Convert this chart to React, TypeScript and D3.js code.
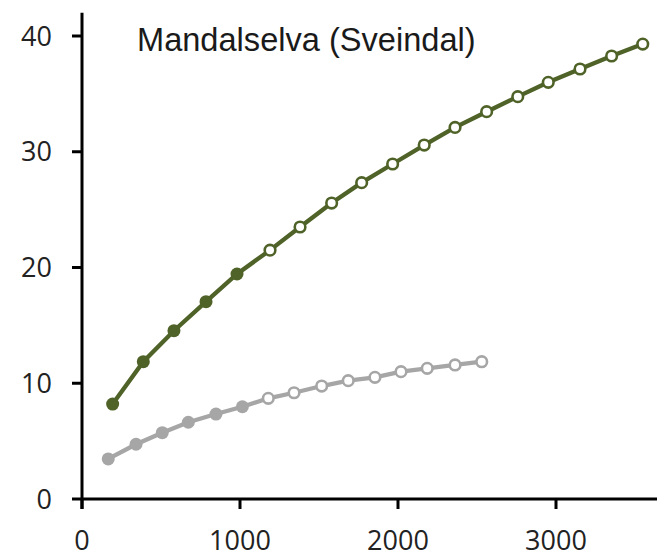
import React from "react";
import * as d3 from "d3";

const greenX = [194, 388, 582, 785, 981, 1190, 1380, 1580, 1770, 1966, 2166, 2361, 2561, 2758, 2951, 3152, 3352, 3549];
const greenY = [8.2, 11.86, 14.54, 17.05, 19.44, 21.5, 23.5, 25.57, 27.33, 28.94, 30.58, 32.1, 33.46, 34.76, 36.0, 37.15, 38.27, 39.3];
const greenFilledCount = 5;

const grayX = [166, 342, 508, 673, 848, 1015, 1179, 1342, 1517, 1685, 1854, 2019, 2185, 2361, 2530];
const grayY = [3.46, 4.73, 5.73, 6.63, 7.34, 7.97, 8.7, 9.18, 9.76, 10.22, 10.51, 11.0, 11.29, 11.58, 11.86];
const grayFilledCount = 6;

const xTicks = [0, 1000, 2000, 3000];
const yTicks = [0, 10, 20, 30, 40];
const title = "Mandalselva (Sveindal)";

const W = 657;
const H = 560;
const GREEN = "#4f6228";
const GRAY = "#a6a6a6";

export default function App() {
  const x = d3.scaleLinear().domain([0, 3700]).range([82, 82 + 3700 * 0.158]);
  const y = d3.scaleLinear().domain([0, 42]).range([499, 499 - 42 * 11.575]);

  const line = d3
    .line<[number, number]>()
    .x((d) => x(d[0]))
    .y((d) => y(d[1]));

  const green: [number, number][] = greenX.map((v, i) => [v, greenY[i]]);
  const gray: [number, number][] = grayX.map((v, i) => [v, grayY[i]]);

  const tickFont = "'Open Sans', sans-serif";

  const series = [
    { data: green, color: GREEN, filled: greenFilledCount },
    { data: gray, color: GRAY, filled: grayFilledCount },
  ];

  return (
    <svg
      width={W}
      height={H}
      style={{ position: "absolute", left: 0, top: 0, background: "#fff" }}
    >
      <rect x={0} y={0} width={W} height={H} fill="#fff" />
      {/* axes */}
      <line x1={x(0)} x2={W + 10} y1={y(0)} y2={y(0)} stroke="#000" strokeWidth={3} />
      <line x1={x(0)} x2={x(0)} y1={y(0) + 10} y2={y(42)} stroke="#000" strokeWidth={3} />
      {yTicks.map((t) => (
        <g key={"y" + t}>
          <line x1={x(0) - 10} x2={x(0)} y1={y(t)} y2={y(t)} stroke="#000" strokeWidth={3} />
          <text
            x={52}
            y={y(t)}
            dy="0.36em"
            textAnchor="end"
            fontFamily={tickFont}
            fontSize={27}
            fill="#222"
          >
            {t}
          </text>
        </g>
      ))}
      {xTicks.map((t) => (
        <g key={"x" + t}>
          <line x1={x(t)} x2={x(t)} y1={y(0)} y2={y(0) + 10} stroke="#000" strokeWidth={3} />
          <text
            x={x(t)}
            y={550}
            textAnchor="middle"
            fontFamily={tickFont}
            fontSize={27}
            fill="#222"
          >
            {t}
          </text>
        </g>
      ))}
      {/* series */}
      {series.map((s, si) => (
        <g key={"s" + si}>
          <path d={line(s.data) || ""} fill="none" stroke={s.color} strokeWidth={4.3} />
          {s.data.map((d, i) =>
            i < s.filled ? (
              <circle key={i} cx={x(d[0])} cy={y(d[1])} r={6.5} fill={s.color} />
            ) : (
              <circle
                key={i}
                cx={x(d[0])}
                cy={y(d[1])}
                r={5.3}
                fill="#fff"
                stroke={s.color}
                strokeWidth={2.6}
              />
            )
          )}
        </g>
      ))}
      <text
        x={137}
        y={51}
        fontFamily="'Liberation Sans', Arial, sans-serif"
        fontSize={32.6}
        fill="#1a1a1a"
      >
        {title}
      </text>
    </svg>
  );
}
